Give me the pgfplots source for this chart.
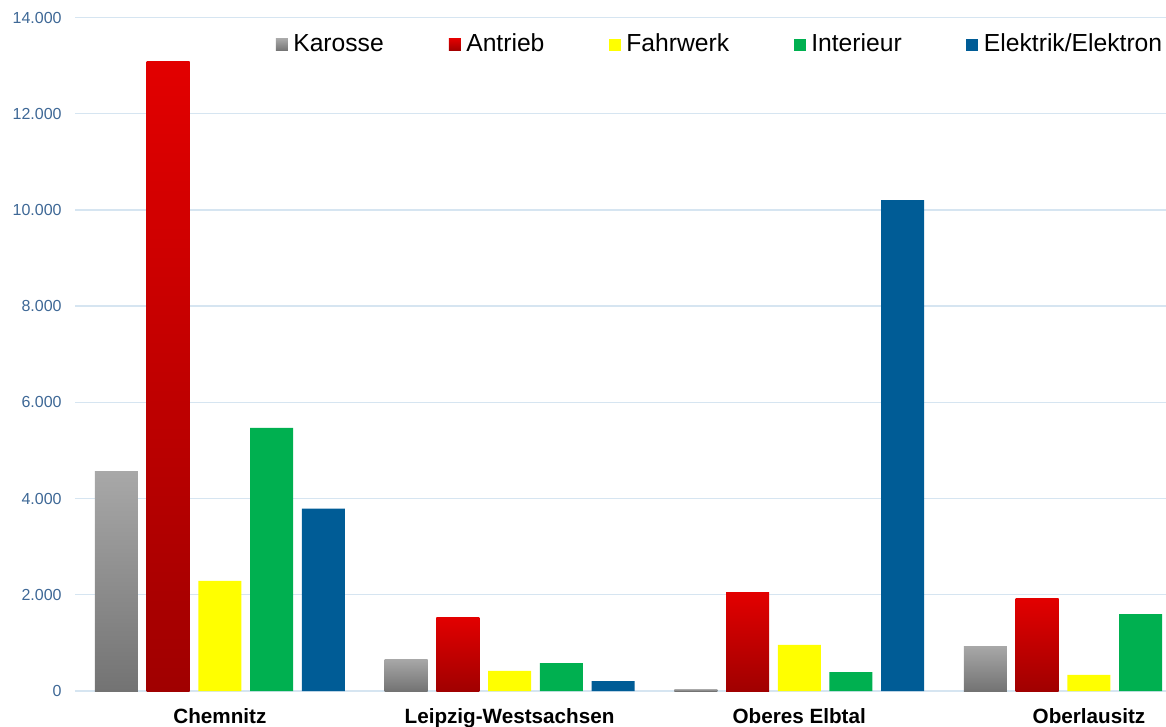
\documentclass[border=0pt]{standalone}
\usepackage{fontspec}
\setmainfont{Liberation Sans}
\usepackage{pgfplots}
\pgfplotsset{compat=1.18}

\definecolor{gridblue}{RGB}{214,229,241}
\definecolor{ticklab}{RGB}{62,104,150}
\definecolor{grayTop}{RGB}{168,168,168}
\definecolor{grayBot}{RGB}{115,115,115}
\definecolor{redTop}{RGB}{226,0,0}
\definecolor{redBot}{RGB}{160,0,0}
\definecolor{fyellow}{RGB}{255,255,0}
\definecolor{fgreen}{RGB}{0,176,80}
\definecolor{fblue}{RGB}{0,92,150}

\pgfplotsset{
    karosse/.style={draw=none, top color=grayTop, bottom color=grayBot, bar shift=-77.6pt},
    antrieb/.style={draw=none, top color=redTop, bottom color=redBot, bar shift=-38.8pt},
}

\begin{document}
\begin{tikzpicture}
\begin{axis}[
    scale only axis,
    width=818.25pt, height=505.125pt,
    xmin=-0.5, xmax=3.266,
    ymin=0, ymax=14000,
    ybar, bar width=32.25pt,
    legend image code/.code={\path[#1,draw=none] (0pt,-5.25pt) rectangle (9pt,3.75pt);},
    ytick={0,2000,...,14000},
    xtick={0,1,2,3},
    xticklabels={Chemnitz,Leipzig-Westsachsen,Oberes Elbtal,Oberlausitz},
    ymajorgrids, grid style={gridblue, line width=1pt},
    axis line style={draw=none},
    major tick length=0pt,
    scaled y ticks=false,
    /pgf/number format/fixed,
    /pgf/number format/precision=0,
    /pgf/number format/1000 sep={.},
    /pgf/number format/assume math mode=true,
    yticklabel style={font=\fontsize{12}{14}\selectfont, text=ticklab, xshift=-6.5pt},
    xticklabel style={font=\bfseries\fontsize{15.5}{18}\selectfont, text=black, yshift=-9.5pt},
    legend style={draw=none, fill=none, inner sep=0pt, outer sep=0pt,
        at={(0.1842,0.961)}, anchor=west,
        font=\fontsize{18.5}{22}\selectfont,
        nodes={inner sep=0pt},
        /tikz/every even column/.append style={column sep=0pt}},
    legend columns=5,
]
\coordinate (ll) at (rel axis cs:0,0);
\coordinate (ur) at (rel axis cs:1,1);

% Karosse (ein Plot je Balken, damit jeder Balken seinen eigenen Verlauf hat)
\addplot[karosse] coordinates {(0,4560)};
\addplot[karosse, forget plot] coordinates {(1,665)};
\addplot[karosse, forget plot] coordinates {(2,40)};
\addplot[karosse, forget plot] coordinates {(3,935)};
% Antrieb
\addplot[antrieb] coordinates {(0,13080)};
\addplot[antrieb, forget plot] coordinates {(1,1518)};
\addplot[antrieb, forget plot] coordinates {(2,2040)};
\addplot[antrieb, forget plot] coordinates {(3,1913)};
% Fahrwerk
\addplot[draw=none, fill=fyellow, bar shift=0pt]
    coordinates {(0,2290) (1,416) (2,960) (3,333)};
% Interieur
\addplot[draw=none, fill=fgreen, bar shift=38.8pt]
    coordinates {(0,5470) (1,582) (2,395) (3,1600)};
% Elektrik/Elektronik (Oberlausitz liegt ausserhalb des Bildes)
\addplot[draw=none, fill=fblue, bar shift=77.6pt]
    coordinates {(0,3790) (1,208) (2,10206)};

\legend{\makebox[120.75pt][l]{\hspace{4pt}Karosse},
        \makebox[111pt][l]{\hspace{4pt}Antrieb},
        \makebox[129.75pt][l]{\hspace{4pt}Fahrwerk},
        \makebox[120pt][l]{\hspace{4pt}Interieur},
        \makebox[0pt][l]{\hspace{4pt}Elektrik/Elektron}}
\end{axis}
\pgfresetboundingbox
\path ([xshift=-56.25pt,yshift=-26.25pt]ll) rectangle ([yshift=13.125pt]ur);
\end{tikzpicture}
\end{document}
